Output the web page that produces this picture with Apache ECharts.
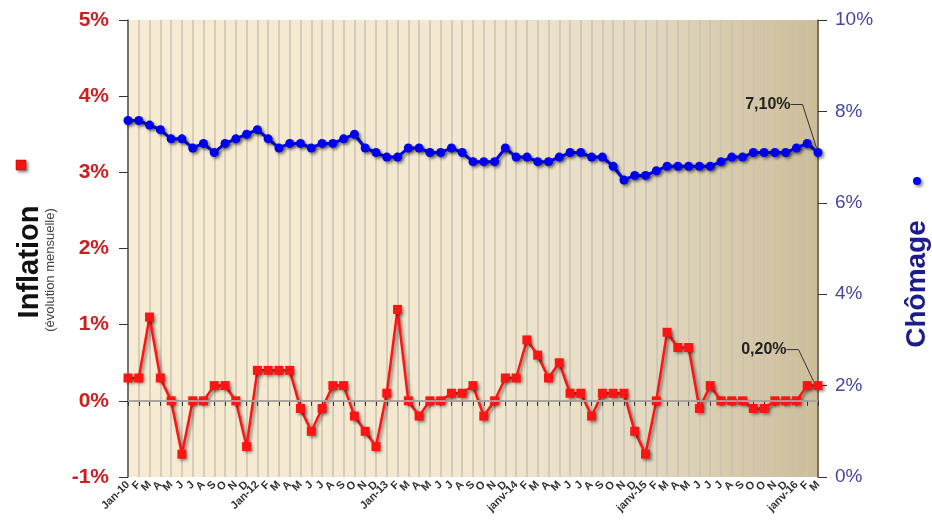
<!DOCTYPE html>
<html>
<head>
<meta charset="utf-8">
<script src="https://cdn.jsdelivr.net/npm/echarts@6/dist/echarts.min.js"></script>
<style>
  html, body { margin: 0; padding: 0; background: #fff; }
  #chart { width: 932px; height: 529px; }
</style>
</head>
<body>
<div id="chart"></div>
<script>
// mois (libellés tels qu'affichés)
const months = [
  'Jan-10', 'F', 'M', 'A', 'M', 'J', 'J', 'A', 'S', 'O', 'N', 'D',
  'Jan-12', 'F', 'M', 'A', 'M', 'J', 'J', 'A', 'S', 'O', 'N', 'D',
  'Jan-13', 'F', 'M', 'A', 'M', 'J', 'J', 'A', 'S', 'O', 'N', 'D',
  'janv-14', 'F', 'M', 'A', 'M', 'J', 'J', 'A', 'S', 'O', 'N', 'D',
  'janv-15', 'F', 'M', 'A', 'M', 'J', 'J', 'J', 'A', 'S', 'O', 'O', 'N', 'D',
  'janv-16', 'F', 'M'
]

// inflation (évolution mensuelle, %)
const inflation = [
  0.3, 0.3, 1.1, 0.3, 0.0, -0.7, 0.0, 0.0, 0.2, 0.2, 0.0, -0.6,
  0.4, 0.4, 0.4, 0.4, -0.1, -0.4, -0.1, 0.2, 0.2, -0.2, -0.4, -0.6,
  0.1, 1.2, 0.0, -0.2, 0.0, 0.0, 0.1, 0.1, 0.2, -0.2, 0.0, 0.3,
  0.3, 0.8, 0.6, 0.3, 0.5, 0.1, 0.1, -0.2, 0.1, 0.1, 0.1, -0.4,
  -0.7, 0.0, 0.9, 0.7, 0.7, -0.1, 0.2, 0.0, 0.0, 0.0, -0.1, -0.1,
  0.0, 0.0, 0.0, 0.2, 0.2
]

// taux de chômage (%)
const chomage = [
  7.8, 7.8, 7.7, 7.6, 7.4, 7.4, 7.2, 7.3, 7.1, 7.3, 7.4, 7.5,
  7.6, 7.4, 7.2, 7.3, 7.3, 7.2, 7.3, 7.3, 7.4, 7.5, 7.2, 7.1,
  7.0, 7.0, 7.2, 7.2, 7.1, 7.1, 7.2, 7.1, 6.9, 6.9, 6.9, 7.2,
  7.0, 7.0, 6.9, 6.9, 7.0, 7.1, 7.1, 7.0, 7.0, 6.8, 6.5, 6.6,
  6.6, 6.7, 6.8, 6.8, 6.8, 6.8, 6.8, 6.9, 7.0, 7.0, 7.1, 7.1,
  7.1, 7.1, 7.2, 7.3, 7.1
]

const shadow = {
  shadowColor: 'rgba(0,0,0,0.45)',
  shadowBlur: 3,
  shadowOffsetX: 2,
  shadowOffsetY: 2
}

const lastLabel = (text) => ({
  show: true,
  formatter: text,
  position: 'left',
  color: '#222',
  fontSize: 16,
  fontWeight: 'bold',
  fontFamily: 'Liberation Sans'
})

const leader = { show: true, length2: 12, lineStyle: { color: '#333', width: 1 } }

const inflationData = inflation.map((v, i) =>
  i === inflation.length - 1
    ? { value: v, label: lastLabel('0,20%'), labelLine: leader }
    : v
)
const chomageData = chomage.map((v, i) =>
  i === chomage.length - 1
    ? { value: v, label: lastLabel('7,10%'), labelLine: leader }
    : v
)

const chart = echarts.init(document.getElementById('chart'))

chart.setOption({
  animation: false,
  textStyle: { fontFamily: 'Liberation Sans' },
  grid: {
    left: 128,
    right: 114,
    top: 20,
    bottom: 52,
    show: true,
    borderWidth: 0,
    backgroundColor: {
      type: 'linear', x: 0, y: 0, x2: 1, y2: 0,
      colorStops: [
        { offset: 0, color: '#f7ecd2' },
        { offset: 0.5, color: '#f3e8cf' },
        { offset: 0.75, color: '#e3d9c1' },
        { offset: 1, color: '#cdbd97' }
      ]
    }
  },
  xAxis: {
    type: 'category',
    data: months,
    boundaryGap: false,
    axisLine: { lineStyle: { color: '#555', width: 1.5 } },
    axisTick: { show: true, interval: 0, length: 5, lineStyle: { color: '#333' } },
    axisLabel: {
      interval: 0,
      rotate: 45,
      margin: 6,
      fontSize: 11,
      fontWeight: 'bold',
      color: '#333'
    },
    splitLine: { show: true, interval: 0, lineStyle: { color: '#c9c2b6', width: 1.5 } }
  },
  yAxis: [
    {
      type: 'value',
      min: -1,
      max: 5,
      interval: 1,
      axisLine: { show: true, lineStyle: { color: '#555', width: 1.5 } },
      axisTick: { show: true, length: 9, lineStyle: { color: '#333' } },
      axisLabel: {
        formatter: '{value}%',
        margin: 19,
        fontSize: 21,
        fontWeight: 'bold',
        color: '#cc2020'
      },
      splitLine: { show: false }
    },
    {
      type: 'value',
      min: 0,
      max: 10,
      interval: 2,
      position: 'right',
      axisLine: { show: true, lineStyle: { color: '#555', width: 1.5 } },
      axisTick: { show: true, length: 9, lineStyle: { color: '#333' } },
      axisLabel: {
        formatter: '{value}%',
        margin: 17,
        fontSize: 19,
        color: '#4646a0'
      },
      splitLine: { show: false }
    }
  ],
  series: [
    {
      name: 'Inflation',
      type: 'line',
      yAxisIndex: 0,
      data: inflationData,
      symbol: 'rect',
      symbolSize: 9,
      showAllSymbol: true,
      lineStyle: { color: '#ff1414', width: 2.5, ...shadow },
      itemStyle: { color: '#ff1414', ...shadow },
      labelLayout: { dx: -22, dy: -36 },
      markLine: {
        silent: true,
        symbol: 'none',
        label: { show: false },
        lineStyle: { color: '#b8b4ac', width: 1.5, type: 'solid' },
        data: [{ yAxis: 0 }]
      },
      z: 3
    },
    {
      name: 'Chômage',
      type: 'line',
      yAxisIndex: 1,
      data: chomageData,
      symbol: 'circle',
      symbolSize: 9,
      showAllSymbol: true,
      lineStyle: { color: '#0000f0', width: 3, ...shadow },
      itemStyle: { color: '#0000f0', ...shadow },
      labelLayout: { dx: -18, dy: -48 },
      z: 3
    }
  ],
  graphic: [
    {
      type: 'text',
      x: 30, y: 262,
      rotation: Math.PI / 2,
      style: {
        text: 'Inflation',
        fontSize: 29,
        fontWeight: 'bold',
        fontFamily: 'Liberation Sans',
        fill: '#111',
        align: 'center',
        verticalAlign: 'middle'
      }
    },
    {
      type: 'text',
      x: 50, y: 270,
      rotation: Math.PI / 2,
      style: {
        text: '(évolution mensuelle)',
        fontSize: 13,
        fontFamily: 'Liberation Sans',
        fill: '#444',
        align: 'center',
        verticalAlign: 'middle'
      }
    },
    {
      type: 'rect',
      shape: { x: 16, y: 160, width: 10, height: 10 },
      style: { fill: '#ff1414', stroke: '#a00', lineWidth: 0.5, ...shadow }
    },
    {
      type: 'text',
      x: 917, y: 284,
      rotation: Math.PI / 2,
      style: {
        text: 'Chômage',
        fontSize: 28,
        fontWeight: 'bold',
        fontFamily: 'Liberation Sans',
        fill: '#1c1c8c',
        align: 'center',
        verticalAlign: 'middle'
      }
    },
    {
      type: 'circle',
      shape: { cx: 917, cy: 181, r: 4 },
      style: { fill: '#0000f0', ...shadow }
    }
  ]
})
</script>
</body>
</html>
